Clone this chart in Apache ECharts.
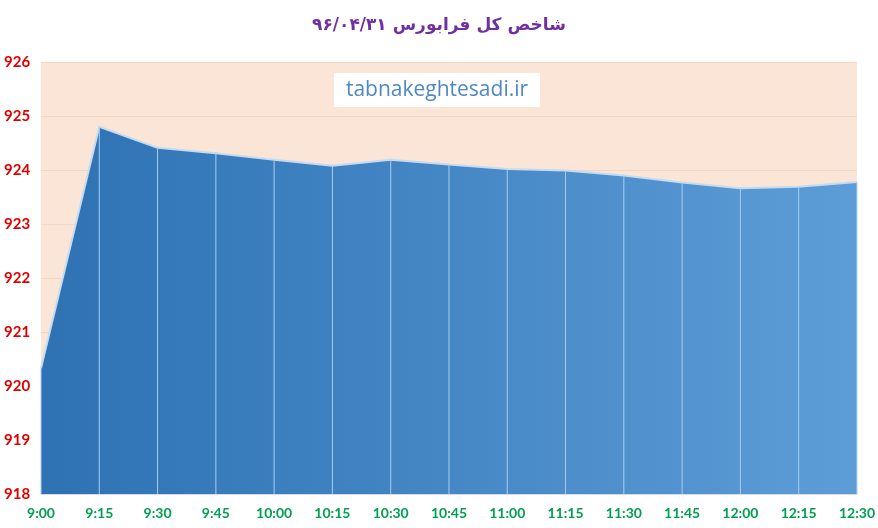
<!DOCTYPE html>
<html>
<head>
<meta charset="utf-8">
<script src="https://cdn.jsdelivr.net/npm/echarts@6/dist/echarts.min.js"></script>
<style>
  html, body { margin: 0; padding: 0; background: #fff; }
  #chart { width: 878px; height: 528px; }
</style>
</head>
<body>
<div id="chart"></div>
<script>
const times = ['9:00', '9:15', '9:30', '9:45', '10:00', '10:15', '10:30', '10:45',
  '11:00', '11:15', '11:30', '11:45', '12:00', '12:15', '12:30'];
const indexValues = [920.33, 924.80, 924.41, 924.31, 924.19, 924.08, 924.19, 924.10,
  924.02, 923.99, 923.90, 923.77, 923.66, 923.69, 923.78];
const titleText = 'شاخص کل فرابورس ۹۶/۰۴/۳۱';
const watermark = 'tabnakeghtesadi.ir';

const chart = echarts.init(document.getElementById('chart'));

chart.setOption({
  animation: false,
  title: {
    text: titleText,
    left: 'center',
    top: 12,
    textStyle: { color: '#7030a0', fontSize: 17, fontWeight: 'bold', fontFamily: 'DejaVu Sans' }
  },
  grid: { left: 41, right: 21, top: 62, bottom: 34, backgroundColor: '#fbe5d6', show: true, borderWidth: 0 },
  graphic: [{
    type: 'group', left: 334, top: 73, z: 100,
    children: [
      { type: 'rect', shape: { x: 0, y: 0, width: 206, height: 34 }, style: { fill: '#ffffff' } },
      { type: 'text', x: 103, y: 17, style: {
          text: watermark, fill: '#4f88c6', font: '21px "Open Sans"', align: 'center', verticalAlign: 'middle'
      } }
    ]
  }],
  xAxis: {
    type: 'category',
    data: times,
    boundaryGap: false,
    axisLine: { lineStyle: { color: '#d9d9d9' } },
    axisTick: { show: false },
    splitLine: { show: false },
    axisLabel: { color: '#00a050', fontWeight: 'bold', fontSize: 14, fontFamily: 'Lato', margin: 12, interval: 0 }
  },
  yAxis: {
    type: 'value',
    min: 918, max: 926, interval: 1,
    axisLine: { show: false },
    axisTick: { show: false },
    splitLine: { lineStyle: { color: '#f3d6c4', width: 1 } },
    axisLabel: { color: '#e00000', fontWeight: 'bold', fontSize: 15, fontFamily: 'Lato', align: 'left', margin: 37 }
  },
  series: [
    {
      type: 'line',
      data: indexValues,
      symbol: 'none',
      z: 2,
      lineStyle: { color: '#c5dbef', width: 2 },
      areaStyle: {
        opacity: 1,
        origin: 'start',
        color: new echarts.graphic.LinearGradient(0, 0, 1, 0, [
          { offset: 0, color: '#2e72b4' },
          { offset: 1, color: '#5d9dd7' }
        ])
      }
    },
    {
      type: 'bar',
      data: indexValues,
      barWidth: 1,
      z: 3,
      itemStyle: { color: '#a9cdf0' },
      silent: true
    }
  ]
});
</script>
</body>
</html>
